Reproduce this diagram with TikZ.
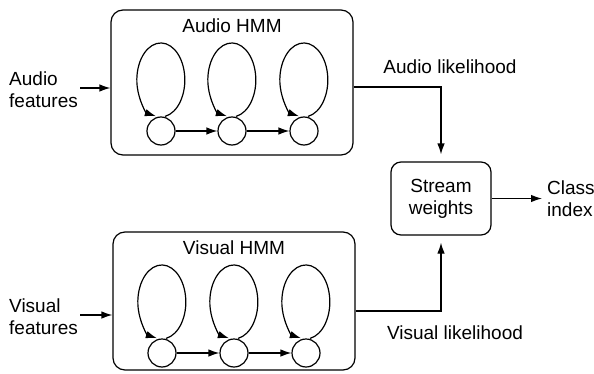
\documentclass[tikz,border=0pt]{standalone}
\usepackage{fontspec}
\setmainfont{Liberation Sans}
\usetikzlibrary{arrows.meta}

\begin{document}
\begin{tikzpicture}[x=1pt, y=1pt, >={Latex[length=11pt,width=7.5pt]}]
        \tikzstyle{hmmbox}=[draw=black, line width=1.2pt, rounded corners=12pt]
        \tikzstyle{state}=[draw=black, circle, line width=1.2pt, minimum size=28pt, inner sep=0pt]
        \tikzstyle{txt}=[font=\fontsize{19}{22}\selectfont, align=left, inner sep=2pt]
        \tikzstyle{flow}=[line width=1.2pt, ->]

        \useasboundingbox (0,0) rectangle (594,373);

        % audio stream
        \node[hmmbox, minimum width=242pt, minimum height=145pt] (abox) at (232,290.5) {};
        \node[txt] (atitle) at (232,347) {Audio HMM};
        \node[state] (a1) at (161,242) {};
        \node[state] (a2) at (232,242) {};
        \node[state] (a3) at (304,242) {};
        \draw[flow] (a1) -- (a2);
        \draw[flow] (a2) -- (a3);
        \draw[flow] ([xshift=4pt]a1.north) arc[start angle=-80, end angle=258, x radius=24, y radius=37];
        \draw[flow] ([xshift=4pt]a2.north) arc[start angle=-80, end angle=258, x radius=24, y radius=37];
        \draw[flow] ([xshift=4pt]a3.north) arc[start angle=-80, end angle=258, x radius=24, y radius=37];

        \node[txt, anchor=west] (afeat) at (7,283) {Audio\\features};
        \coordinate (ain) at (abox.west |- 0,285);
        \draw[flow] (afeat.east |- ain) -- (ain);

        % visual stream
        \node[hmmbox, minimum width=242pt, minimum height=138pt] (vbox) at (234,72) {};
        \node[txt] (vtitle) at (234,125) {Visual HMM};
        \node[state] (v1) at (162,20) {};
        \node[state] (v2) at (234,20) {};
        \node[state] (v3) at (306,20) {};
        \draw[flow] (v1) -- (v2);
        \draw[flow] (v2) -- (v3);
        \draw[flow] ([xshift=4pt]v1.north) arc[start angle=-80, end angle=258, x radius=24, y radius=37];
        \draw[flow] ([xshift=4pt]v2.north) arc[start angle=-80, end angle=258, x radius=24, y radius=37];
        \draw[flow] ([xshift=4pt]v3.north) arc[start angle=-80, end angle=258, x radius=24, y radius=37];

        \node[txt, anchor=west] (vfeat) at (7,56) {Visual\\features};
        \coordinate (vin) at (vbox.west |- 0,58);
        \draw[flow] (vfeat.east |- vin) -- (vin);

        % fusion
        \node[hmmbox, rounded corners=10pt, minimum width=100pt, minimum height=73pt, txt, align=center] (sw) at (441,174.5) {Stream\\weights};
        \node[txt, anchor=west] (cls) at (545,174.5) {Class\\index};
        \draw[flow, shorten >=3pt] (sw.east) -- (cls.west);

        \coordinate (aout) at (abox.east |- 0,286);
        \coordinate (vout) at (vbox.east |- 0,62);
        \draw[flow, shorten >=7pt] (aout) -| (sw.north);
        \draw[flow, shorten >=7pt] (vout) -| (sw.south);

        \node[txt] (alik) at (450,306) {Audio likelihood};
        \node[txt] (vlik) at (455,40) {Visual likelihood};
      \end{tikzpicture}
\end{document}
